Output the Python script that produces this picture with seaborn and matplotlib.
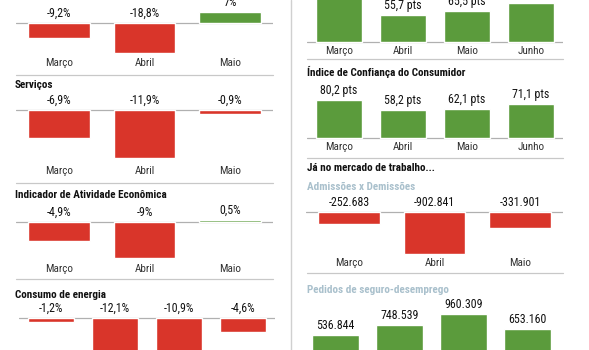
import matplotlib
matplotlib.use("Agg")
import matplotlib.pyplot as plt
import seaborn as sns
import pandas as pd
from matplotlib.lines import Line2D

sns.set_theme(style="white")
FAM = ['Liberation Sans Narrow', 'Roboto Condensed', 'Liberation Sans', 'DejaVu Sans']
plt.rcParams['font.family'] = FAM

W, H = 589, 350
RED = '#d9352a'
GREEN = '#5b9b3c'

# ---- data ----
meses3 = ['Março', 'Abril', 'Maio']
meses4 = ['Março', 'Abril', 'Maio', 'Junho']

varejo_vals = [-9.2, -18.8, 7.0]
varejo_labels = ['-9,2%', '-18,8%', '7%']

servicos_vals = [-6.9, -11.9, -0.9]
servicos_labels = ['-6,9%', '-11,9%', '-0,9%']

iae_vals = [-4.9, -9.0, 0.5]
iae_labels = ['-4,9%', '-9%', '0,5%']

energia_vals = [-1.2, -12.1, -10.9, -4.6]
energia_labels = ['-1,2%', '-12,1%', '-10,9%', '-4,6%']

empresarial_vals = [91.0, 55.7, 65.5, 80.5]
empresarial_labels = ['91,0 pts', '55,7 pts', '65,5 pts', '80,5 pts']

consumidor_vals = [80.2, 58.2, 62.1, 71.1]
consumidor_labels = ['80,2 pts', '58,2 pts', '62,1 pts', '71,1 pts']

saldo_vals = [-252683, -902841, -331901]
saldo_labels = ['-252.683', '-902.841', '-331.901']

seguro_vals = [536844, 748539, 960309, 653160]
seguro_labels = ['536.844', '748.539', '960.309', '653.160']

fig = plt.figure(figsize=(W / 100, H / 100), dpi=100)
fig.patch.set_facecolor('white')


def panel(x0, x1, T, B, base, scale, cats, vals, labels, tick_y=None, width=0.72):
    ax = fig.add_axes([x0 / W, 1 - B / H, (x1 - x0) / W, (B - T) / H])
    ax.patch.set_alpha(0)
    df = pd.DataFrame({'cat': cats, 'val': vals})
    colors = [RED if v < 0 else GREEN for v in vals]
    sns.barplot(data=df, x='cat', y='val', hue='cat', palette=colors,
                legend=False, width=width, saturation=1, ax=ax, zorder=3)
    n = len(cats)
    ax.set_xlim(-0.5, n - 0.5)
    ax.set_ylim((base - B) / scale, (base - T) / scale)
    ax.axhline(0, color='#b0b0b0', lw=0.9, zorder=1)
    ax.axis('off')
    for i, (v, lab) in enumerate(zip(vals, labels)):
        # pixel row of the label centre; skip labels lying wholly above the canvas
        label_px = base - max(v, 0) * scale - 9.5
        if label_px > -5:
            ax.annotate(lab, (i, max(v, 0)), xytext=(0, 9.5), textcoords='offset pixels',
                        ha='center', va='center', fontsize=8.6, color='#111')
        if tick_y is not None:
            ax.annotate(cats[i], (i, 0), xytext=(0, -(tick_y - base)), textcoords='offset pixels',
                        ha='center', va='center', fontsize=8, color='#333')
    return ax


def title(x, y, s, color='#111'):
    fig.text(x / W, 1 - y / H, s, ha='left', va='center', fontsize=8,
             fontweight='bold', color=color)


def hline(x0, x1, y):
    fig.add_artist(Line2D([x0 / W, x1 / W], [1 - y / H, 1 - y / H],
                          color='#c8c8c8', lw=0.9))


# left column
panel(16, 273, -20, 75, 23, 1.6, meses3, varejo_vals, varejo_labels, 63)
hline(16, 273, 75)
title(15, 85, 'Serviços')
panel(16, 273, 90, 182, 110, 4.0, meses3, servicos_vals, servicos_labels, 171)
hline(16, 273, 183)
title(15, 195, 'Indicador de Atividade Econômica')
panel(16, 273, 200, 278, 222, 3.95, meses3, iae_vals, iae_labels, 269)
hline(16, 273, 279)
title(15, 295, 'Consumo de energia')
panel(19, 275, 300, 360, 318, 3.0, meses4, energia_vals, energia_labels)

# right column
panel(307, 563, -20, 58, 42, 0.48, meses4, empresarial_vals, empresarial_labels, 51)
hline(307, 563, 59)
title(307, 72, 'Índice de Confiança do Consumidor')
panel(307, 563, 78, 157, 138, 0.474, meses4, consumidor_vals, consumidor_labels, 147)
hline(307, 563, 158)
title(307, 168, 'Já no mercado de trabalho...')
title(307, 187, 'Admissões x Demissões', color='#a9c0cc')
panel(306, 563, 192, 272, 212, 47e-6, meses3, saldo_vals, saldo_labels, 263)
hline(307, 563, 273)
title(307, 290, 'Pedidos de seguro-desemprego', color='#a9c0cc')
panel(303.5, 559.5, 296, 370, 361.4, 49e-6, meses4, seguro_vals, seguro_labels)

# vertical divider
fig.add_artist(Line2D([291 / W, 291 / W], [0, 1], color='#d0d0d0', lw=1))

fig.savefig('out.png', dpi=100, facecolor='white')
